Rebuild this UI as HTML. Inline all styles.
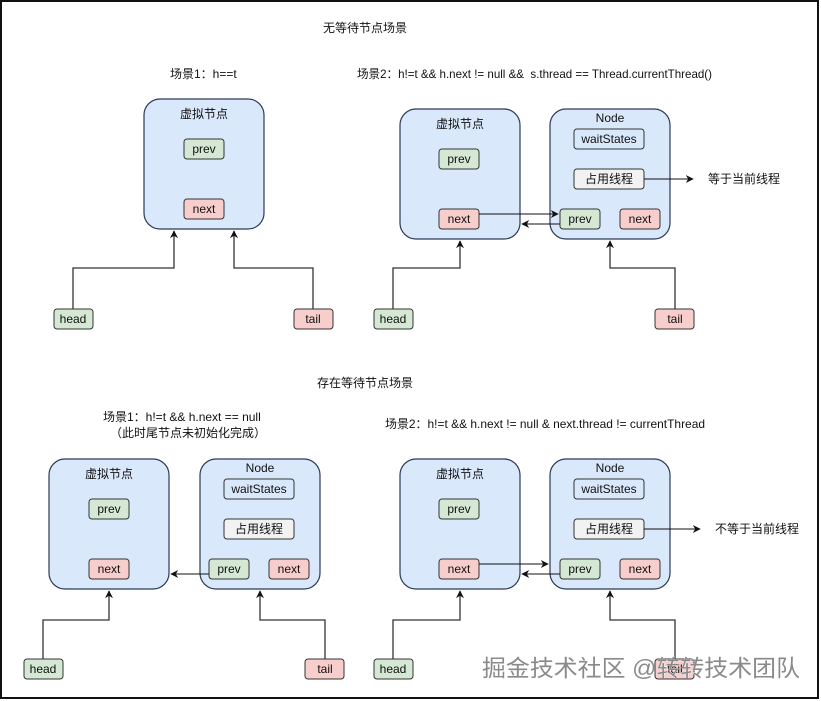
<!DOCTYPE html>
<html><head><meta charset="utf-8"><style>
html,body{margin:0;padding:0;background:#fff}
svg{display:block}
text{font-family:"Liberation Sans","Noto Sans CJK SC",sans-serif;font-size:12px;fill:#111}
.big{fill:#dae8fc;stroke:#2b3a55;stroke-width:1.2}
.pv{fill:#d5e8d4;stroke:#333;stroke-width:1}
.nx{fill:#f8cecc;stroke:#333;stroke-width:1}
.ws{fill:#dae8fc;stroke:#333;stroke-width:1}
.th{fill:#f2f2f2;stroke:#333;stroke-width:1}
.ln{fill:none;stroke:#111;stroke-width:1}
.gl{fill:none;stroke:#333;stroke-width:1.3}
</style></head><body>
<svg width="821" height="701" viewBox="0 0 821 701" xmlns="http://www.w3.org/2000/svg">
<defs>
<marker id="a" viewBox="0 0 10 10" refX="9" refY="5" markerWidth="8" markerHeight="8" orient="auto" markerUnits="userSpaceOnUse"><path d="M0,0 L10,5 L0,10 L3,5 z" fill="#111"/></marker>
</defs>
<rect x="1" y="1" width="817" height="697" fill="none" stroke="#111" stroke-width="2"/>

<text x="365" y="32" text-anchor="middle">无等待节点场景</text>
<text x="170" y="78">场景1：h==t</text>
<text x="357" y="78" textLength="355" lengthAdjust="spacingAndGlyphs" xml:space="preserve">场景2：h!=t &amp;&amp; h.next != null &amp;&amp;  s.thread == Thread.currentThread()</text>
<text x="365" y="387" text-anchor="middle">存在等待节点场景</text>
<text x="103" y="421">场景1：h!=t &amp;&amp; h.next == null</text>
<text x="110" y="437">（此时尾节点未初始化完成）</text>
<text x="385" y="428" textLength="320" lengthAdjust="spacingAndGlyphs">场景2：h!=t &amp;&amp; h.next != null &amp; next.thread != currentThread</text>

<!-- top-left -->
<rect class="big" x="144" y="99" width="120" height="130" rx="16"/>
<text x="204" y="118" text-anchor="middle">虚拟节点</text>
<rect class="pv" x="184" y="139" width="40" height="20" rx="3"/><text x="204" y="153" text-anchor="middle">prev</text>
<rect class="nx" x="184" y="199" width="40" height="20" rx="3"/><text x="204" y="213" text-anchor="middle">next</text>
<path class="gl" d="M73,309 V268 H174 V231" marker-end="url(#a)"/>
<path class="gl" d="M313,309 V268 H234 V231" marker-end="url(#a)"/>
<rect class="pv" x="54" y="309" width="39" height="20" rx="3"/><text x="73" y="323" text-anchor="middle">head</text>
<rect class="nx" x="294" y="309" width="39" height="20" rx="3"/><text x="313" y="323" text-anchor="middle">tail</text>

<!-- top-right -->
<g>
<rect class="big" x="400" y="109" width="120" height="130" rx="16"/>
<text x="460" y="128" text-anchor="middle">虚拟节点</text>
<rect class="pv" x="439" y="149" width="40" height="20" rx="3"/><text x="459" y="163" text-anchor="middle">prev</text>
<rect class="nx" x="439" y="209" width="40" height="20" rx="3"/><text x="459" y="223" text-anchor="middle">next</text>
<rect class="big" x="550" y="109" width="120" height="130" rx="16"/>
<text x="610" y="122" text-anchor="middle">Node</text>
<rect class="ws" x="574" y="129" width="70" height="20" rx="3"/><text x="609" y="143" text-anchor="middle">waitStates</text>
<rect class="th" x="574" y="169" width="70" height="20" rx="3"/><text x="609" y="183" text-anchor="middle">占用线程</text>
<rect class="pv" x="560" y="209" width="40" height="20" rx="3"/><text x="580" y="223" text-anchor="middle">prev</text>
<rect class="nx" x="620" y="209" width="40" height="20" rx="3"/><text x="640" y="223" text-anchor="middle">next</text>
<path class="ln" d="M479,214 H558" marker-end="url(#a)"/>
<path class="ln" d="M560,224 H522" marker-end="url(#a)"/>
<path class="ln" d="M644,179 H693" marker-end="url(#a)"/>
<text x="708" y="183">等于当前线程</text>
<path class="gl" d="M393,309 V268 H460 V241" marker-end="url(#a)"/>
<path class="gl" d="M675,309 V268 H610 V241" marker-end="url(#a)"/>
<rect class="pv" x="374" y="309" width="39" height="20" rx="3"/><text x="393" y="323" text-anchor="middle">head</text>
<rect class="nx" x="655" y="309" width="39" height="20" rx="3"/><text x="675" y="323" text-anchor="middle">tail</text>
</g>

<!-- bottom-left -->
<rect class="big" x="49" y="459" width="120" height="130" rx="16"/>
<text x="109" y="478" text-anchor="middle">虚拟节点</text>
<rect class="pv" x="89" y="499" width="40" height="20" rx="3"/><text x="109" y="513" text-anchor="middle">prev</text>
<rect class="nx" x="89" y="559" width="40" height="20" rx="3"/><text x="109" y="573" text-anchor="middle">next</text>
<rect class="big" x="200" y="459" width="120" height="130" rx="16"/>
<text x="260" y="472" text-anchor="middle">Node</text>
<rect class="ws" x="224" y="479" width="70" height="20" rx="3"/><text x="259" y="493" text-anchor="middle">waitStates</text>
<rect class="th" x="224" y="519" width="70" height="20" rx="3"/><text x="259" y="533" text-anchor="middle">占用线程</text>
<rect class="pv" x="209" y="559" width="40" height="20" rx="3"/><text x="229" y="573" text-anchor="middle">prev</text>
<rect class="nx" x="269" y="559" width="40" height="20" rx="3"/><text x="289" y="573" text-anchor="middle">next</text>
<path class="ln" d="M209,574 H171" marker-end="url(#a)"/>
<path class="gl" d="M43,659 V620 H109 V591" marker-end="url(#a)"/>
<path class="gl" d="M325,659 V620 H260 V591" marker-end="url(#a)"/>
<rect class="pv" x="24" y="659" width="39" height="20" rx="3"/><text x="43" y="673" text-anchor="middle">head</text>
<rect class="nx" x="305" y="659" width="39" height="20" rx="3"/><text x="325" y="673" text-anchor="middle">tail</text>

<!-- bottom-right -->
<rect class="big" x="400" y="459" width="120" height="130" rx="16"/>
<text x="460" y="478" text-anchor="middle">虚拟节点</text>
<rect class="pv" x="439" y="499" width="40" height="20" rx="3"/><text x="459" y="513" text-anchor="middle">prev</text>
<rect class="nx" x="439" y="559" width="40" height="20" rx="3"/><text x="459" y="573" text-anchor="middle">next</text>
<rect class="big" x="550" y="459" width="120" height="130" rx="16"/>
<text x="610" y="472" text-anchor="middle">Node</text>
<rect class="ws" x="574" y="479" width="70" height="20" rx="3"/><text x="609" y="493" text-anchor="middle">waitStates</text>
<rect class="th" x="574" y="519" width="70" height="20" rx="3"/><text x="609" y="533" text-anchor="middle">占用线程</text>
<rect class="pv" x="560" y="559" width="40" height="20" rx="3"/><text x="580" y="573" text-anchor="middle">prev</text>
<rect class="nx" x="620" y="559" width="40" height="20" rx="3"/><text x="640" y="573" text-anchor="middle">next</text>
<path class="ln" d="M479,564 H548" marker-end="url(#a)"/>
<path class="ln" d="M560,574 H522" marker-end="url(#a)"/>
<path class="ln" d="M644,529 H700" marker-end="url(#a)"/>
<text x="715" y="533">不等于当前线程</text>
<path class="gl" d="M393,659 V620 H460 V591" marker-end="url(#a)"/>
<path class="gl" d="M675,659 V620 H610 V591" marker-end="url(#a)"/>
<rect class="pv" x="374" y="659" width="39" height="20" rx="3"/><text x="393" y="673" text-anchor="middle">head</text>
<rect class="nx" x="655" y="659" width="39" height="20" rx="3"/><text x="675" y="673" text-anchor="middle">tail</text>

<text x="482" y="676" textLength="318" lengthAdjust="spacingAndGlyphs" style="font-size:23px;fill:#8a8a8a;stroke:#fff;stroke-width:0.6;paint-order:stroke">掘金技术社区 @转转技术团队</text>
</svg>
</body></html>
